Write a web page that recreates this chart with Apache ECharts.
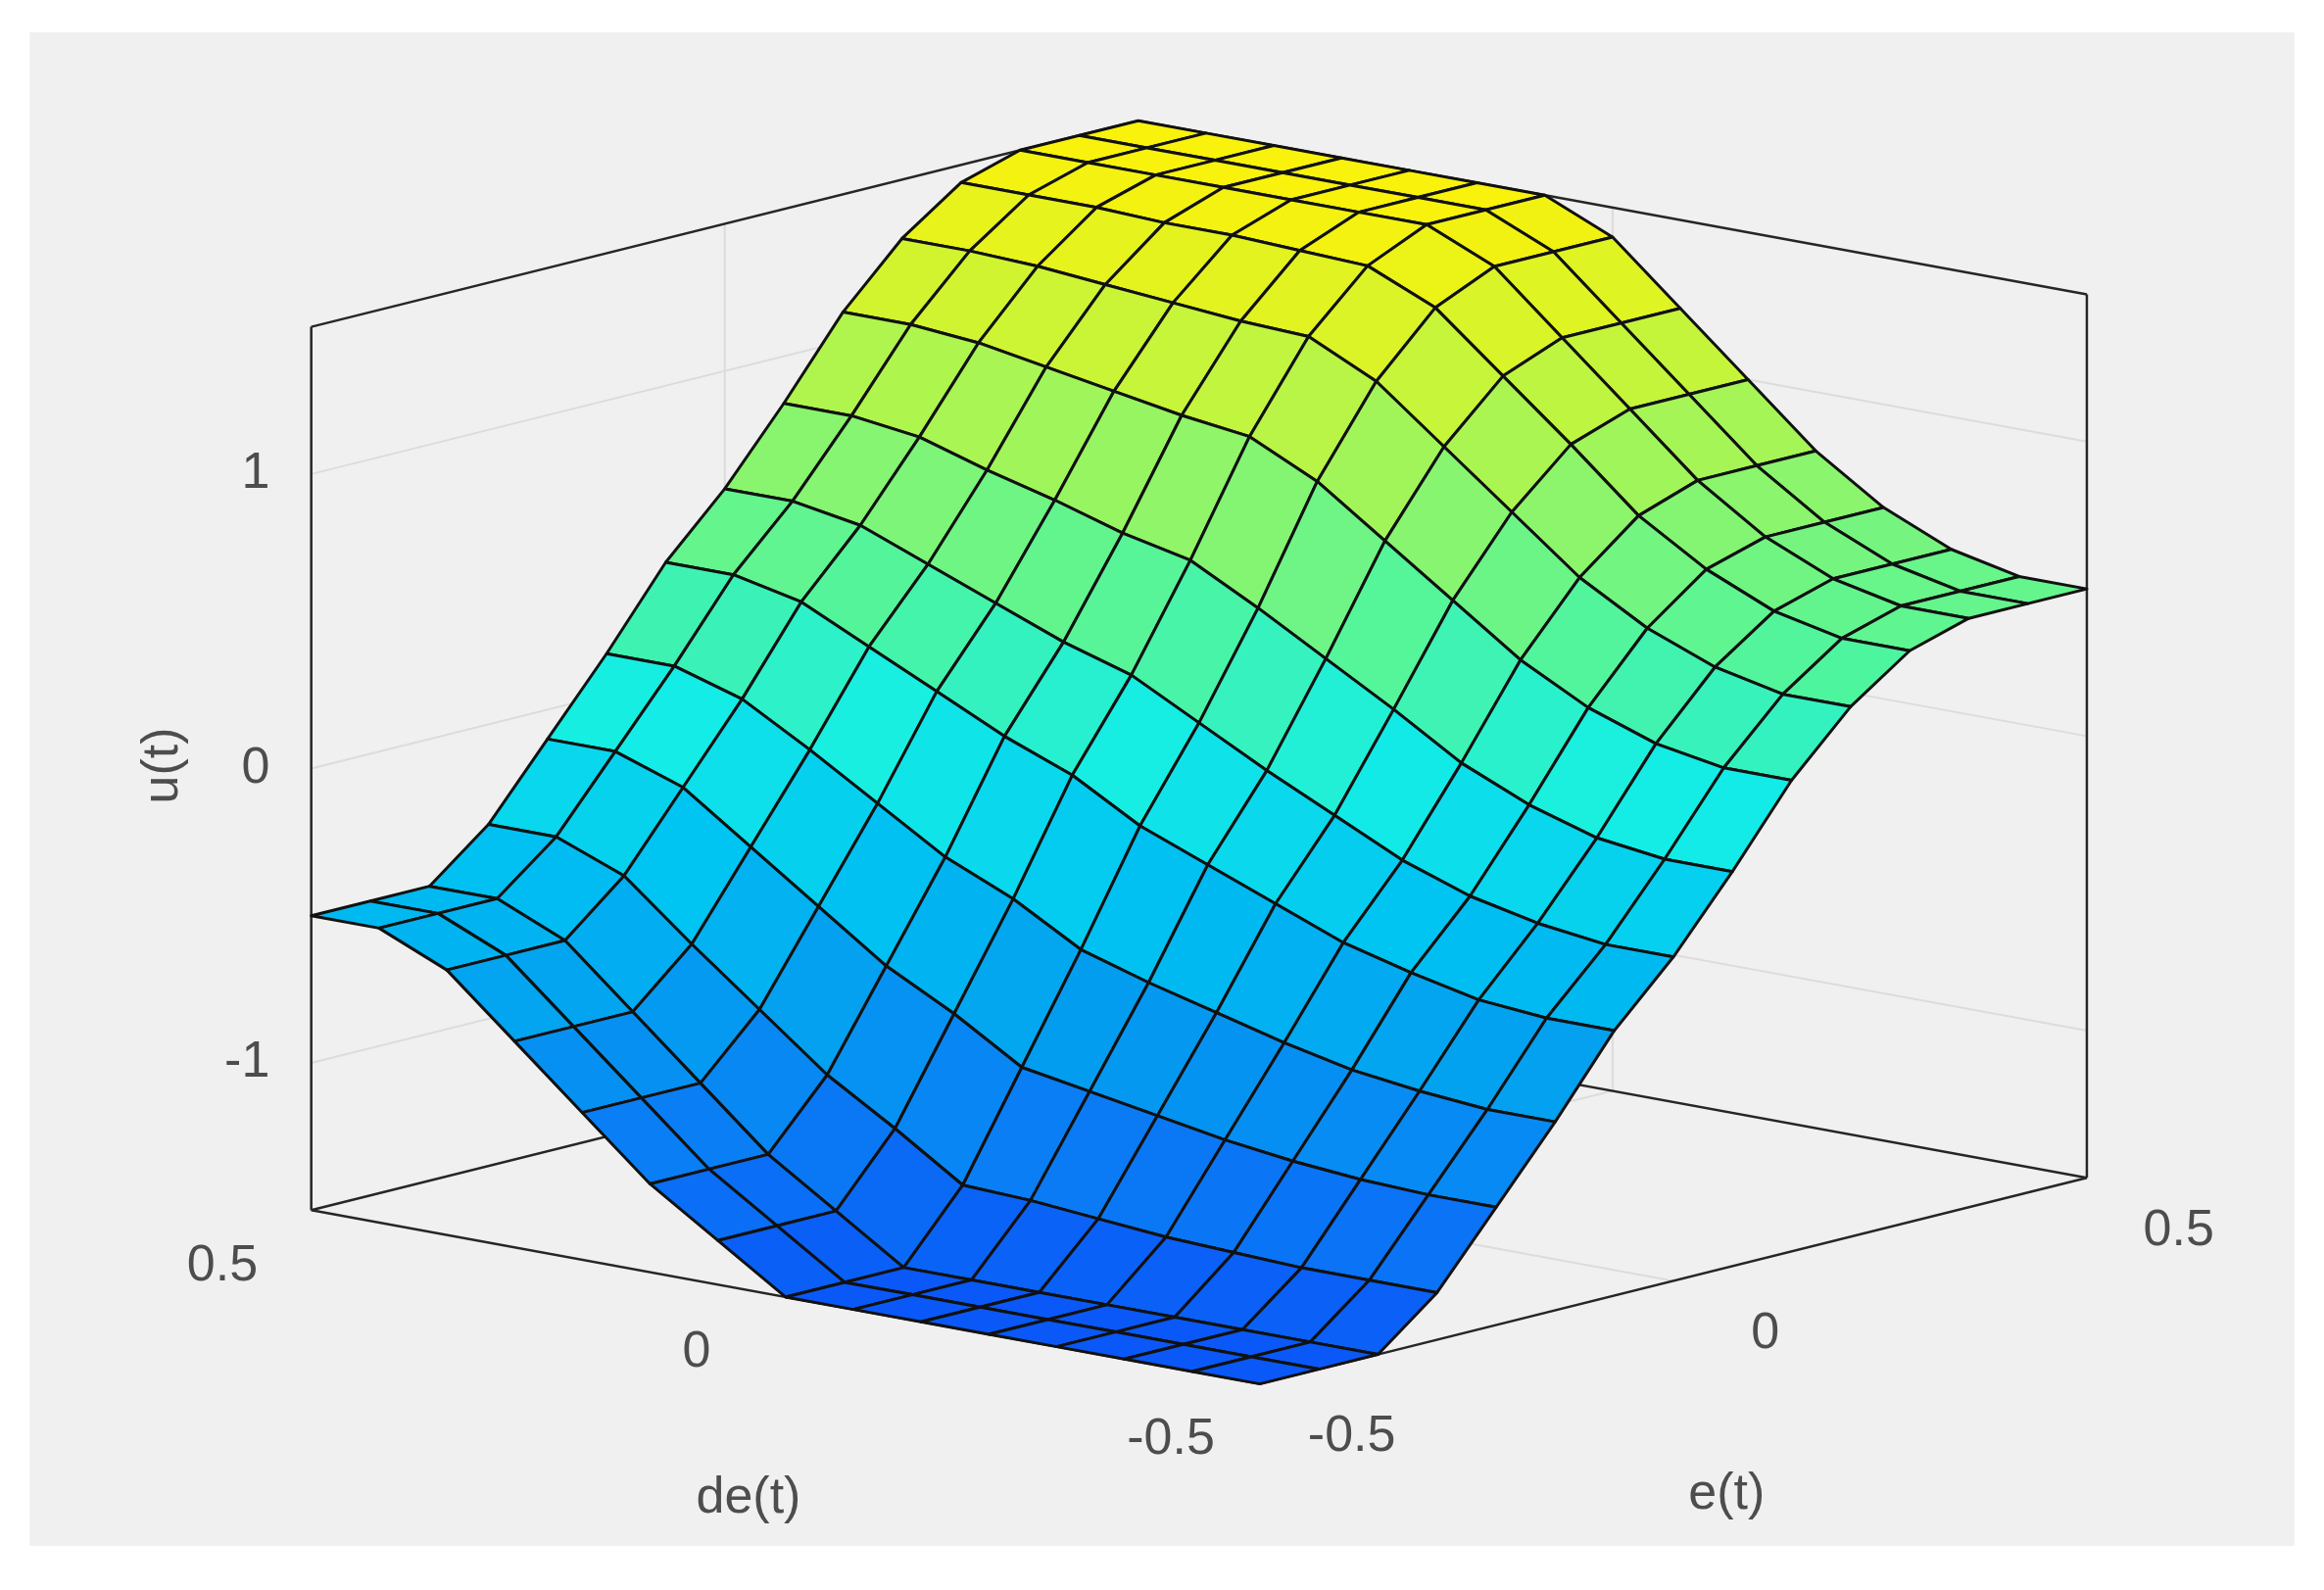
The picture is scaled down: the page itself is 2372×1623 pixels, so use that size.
<!DOCTYPE html>
<html>
<head>
<meta charset="utf-8">
<script src="https://cdn.jsdelivr.net/npm/echarts@6/dist/echarts.min.js"></script>
<style>html,body{margin:0;padding:0;background:#fff}#main{width:2372px;height:1623px}</style>
</head>
<body>
<div id="main"></div>
<script>
// grid axes (15 x 15 points)
var eTicks = [-0.5, 0, 0.5];
var deTicks = [-0.5, 0, 0.5];
var uTicks = [-1, 0, 1];
var eVals = [-0.5,-0.4286,-0.3571,-0.2857,-0.2143,-0.1429,-0.0714,0,0.0714,0.1429,0.2143,0.2857,0.3571,0.4286,0.5];
var deVals = [-0.5,-0.4286,-0.3571,-0.2857,-0.2143,-0.1429,-0.0714,0,0.0714,0.1429,0.2143,0.2857,0.3571,0.4286,0.5];
// u(t), rows = de(t), columns = e(t)
var uRows = [
  [-1.5,-1.5,-1.5,-1.34,-1.1,-0.86,-0.6,-0.4,-0.16,0.1,0.3,0.44,0.5,0.5,0.5],
  [-1.5,-1.5,-1.5,-1.34,-1.1,-0.86,-0.6,-0.4,-0.16,0.1,0.3,0.44,0.5,0.5,0.5],
  [-1.5,-1.5,-1.5,-1.34,-1.09,-0.84,-0.58,-0.37,-0.13,0.14,0.35,0.49,0.55,0.55,0.55],
  [-1.5,-1.5,-1.5,-1.33,-1.07,-0.81,-0.53,-0.32,-0.06,0.22,0.44,0.59,0.65,0.65,0.65],
  [-1.5,-1.5,-1.5,-1.32,-1.04,-0.76,-0.47,-0.24,0.04,0.34,0.57,0.73,0.8,0.8,0.8],
  [-1.5,-1.5,-1.5,-1.3,-1.0,-0.7,-0.38,-0.13,0.18,0.5,0.75,0.93,1.0,1.0,1.0],
  [-1.5,-1.5,-1.5,-1.28,-0.96,-0.64,-0.29,-0.02,0.31,0.66,0.93,1.12,1.2,1.2,1.2],
  [-1.5,-1.5,-1.5,-1.27,-0.92,-0.57,-0.2,0.1,0.44,0.82,1.11,1.31,1.4,1.4,1.4],
  [-1.35,-1.35,-1.35,-1.12,-0.78,-0.44,-0.07,0.22,0.56,0.93,1.22,1.41,1.5,1.5,1.5],
  [-1.2,-1.2,-1.2,-0.98,-0.66,-0.34,0.02,0.29,0.61,0.96,1.23,1.42,1.5,1.5,1.5],
  [-1.0,-1.0,-1.0,-0.8,-0.5,-0.2,0.13,0.38,0.68,1.0,1.25,1.43,1.5,1.5,1.5],
  [-0.8,-0.8,-0.8,-0.62,-0.34,-0.06,0.24,0.47,0.74,1.04,1.27,1.43,1.5,1.5,1.5],
  [-0.6,-0.6,-0.6,-0.43,-0.18,0.07,0.35,0.56,0.81,1.08,1.29,1.44,1.5,1.5,1.5],
  [-0.5,-0.5,-0.5,-0.34,-0.1,0.14,0.4,0.6,0.84,1.1,1.3,1.44,1.5,1.5,1.5],
  [-0.5,-0.5,-0.5,-0.34,-0.1,0.14,0.4,0.6,0.84,1.1,1.3,1.44,1.5,1.5,1.5]
];

var SX = 2372 / 1568, SY = 1623 / 1080;
// projection of (e, de, u) into the 1568x1080 reference frame
function proj(e, de, u) {
  return [809 + e * 558 - de * 640, 511 - e * 140 - de * 118 - u * 200];
}

// surface cells, far ones first
var cells = [];
for (var i = 0; i < 14; i++) {
  for (var j = 0; j < 14; j++) {
    var avg = (uRows[i][j] + uRows[i+1][j] + uRows[i][j+1] + uRows[i+1][j+1]) / 4;
    cells.push([i, j, avg, eVals[j] + deVals[i]]);
  }
}
cells.sort(function (a, b) { return b[3] - a[3]; });

var gridLines = [];
uTicks.forEach(function (u) {
  gridLines.push([[-0.5,0.5,u],[0.5,0.5,u]]);
  gridLines.push([[0.5,0.5,u],[0.5,-0.5,u]]);
});
gridLines.push([[0,0.5,-1.5],[0,0.5,1.5]]);
gridLines.push([[0.5,0,-1.5],[0.5,0,1.5]]);
gridLines.push([[0,0.5,-1.5],[0,-0.5,-1.5]]);
gridLines.push([[-0.5,0,-1.5],[0.5,0,-1.5]]);
var boxLines = [
  [[-0.5,0.5,-1.5],[-0.5,0.5,1.5]],
  [[0.5,-0.5,-1.5],[0.5,-0.5,1.5]],
  [[0.5,0.5,-1.5],[0.5,0.5,1.5]],
  [[-0.5,0.5,1.5],[0.5,0.5,1.5]],
  [[0.5,0.5,1.5],[0.5,-0.5,1.5]],
  [[-0.5,0.5,-1.5],[-0.5,-0.5,-1.5]],
  [[-0.5,-0.5,-1.5],[0.5,-0.5,-1.5]],
  [[-0.5,0.5,-1.5],[0.5,0.5,-1.5]],
  [[0.5,0.5,-1.5],[0.5,-0.5,-1.5]]
];

var labels = [];
uTicks.forEach(function (u) { var p = proj(-0.5,0.5,u); labels.push([p[0]-28, p[1], String(u), 'right', 0]); });
deTicks.forEach(function (d) { var p = proj(-0.5,d,-1.5); labels.push([p[0]-60, p[1]+38, String(d), 'center', 0]); });
eTicks.forEach(function (e) { var p = proj(e,-0.5,-1.5); labels.push([p[0]+62, p[1]+36, String(e), 'center', 0]); });
labels.push([505, 1018, 'de(t)', 'center', 0]);
labels.push([1165, 1015, 'e(t)', 'center', 0]);
labels.push([110, 520, 'u(t)', 'center', Math.PI / 2]);

function lineItem(seg, api, color, w) {
  var a = api.coord(proj.apply(null, seg[0])), b = api.coord(proj.apply(null, seg[1]));
  return { type: 'line', shape: { x1: a[0], y1: a[1], x2: b[0], y2: b[1] }, style: { stroke: color, lineWidth: w } };
}

var myChart = echarts.init(document.getElementById('main'));
var option = {
  backgroundColor: '#ffffff',
  animation: false,
  graphic: [{ type: 'rect', z: -10, shape: { x: 20 * SX, y: 22 * SY, width: 1528 * SX, height: 1028 * SY }, style: { fill: '#f0f0f0' } }],
  grid: { left: 0, right: 0, top: 0, bottom: 0 },
  xAxis: { type: 'value', min: 0, max: 1568, show: false },
  yAxis: { type: 'value', min: 0, max: 1080, inverse: true, show: false },
  visualMap: {
    show: false, seriesIndex: 2, dimension: 2, min: -1.5, max: 1.5,
    inRange: { color: ['#0a58f8','#0a7cf5','#039ff0','#00c6f2','#14eee6','#4ff59e','#8ef56a','#c8f538','#f8f20c'] }
  },
  series: [
    {
      type: 'custom', z: 1, data: gridLines.map(function (g, k) { return [k]; }),
      renderItem: function (params, api) { return lineItem(gridLines[api.value(0)], api, '#dcdcdc', 2); }
    },
    {
      type: 'custom', z: 2, data: boxLines.map(function (g, k) { return [k]; }),
      renderItem: function (params, api) { return lineItem(boxLines[api.value(0)], api, '#262626', 2.5); }
    },
    {
      type: 'custom', z: 3, data: cells,
      renderItem: function (params, api) {
        var i = api.value(0), j = api.value(1);
        var pts = [[i,j],[i,j+1],[i+1,j+1],[i+1,j]].map(function (q) {
          return api.coord(proj(eVals[q[1]], deVals[q[0]], uRows[q[0]][q[1]]));
        });
        return { type: 'polygon', shape: { points: pts }, style: { fill: api.visual('color'), stroke: '#111', lineWidth: 3, lineJoin: 'round' } };
      }
    },
    {
      type: 'custom', z: 4, data: labels.map(function (l, k) { return [k]; }),
      renderItem: function (params, api) {
        var l = labels[api.value(0)], p = api.coord([l[0], l[1]]);
        return { type: 'text', x: p[0], y: p[1], rotation: l[4],
          style: { text: l[2], fill: '#4d4d4d', font: '52px "Liberation Sans", Arial', align: l[3], verticalAlign: 'middle' } };
      }
    }
  ]
};
myChart.setOption(option);
</script>
</body>
</html>
